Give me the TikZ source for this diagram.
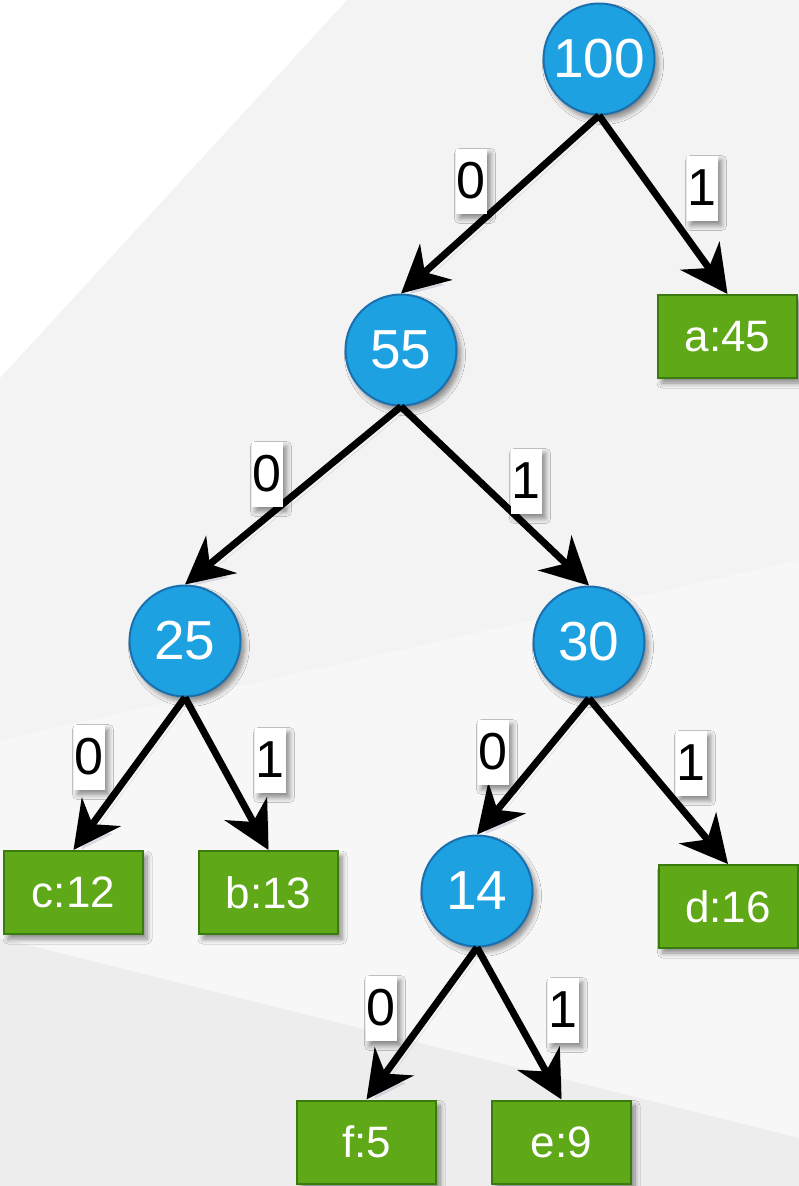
\documentclass[tikz,border=0pt]{standalone}
\usepackage{fontspec}
\setmainfont{Liberation Sans}
\usetikzlibrary{arrows.meta,shadows.blur}
\definecolor{bgtop}{HTML}{F3F3F3}
\definecolor{bgtopr}{HTML}{F4F4F4}
\definecolor{bgmid}{HTML}{F7F7F7}
\definecolor{bgbot}{HTML}{EDEDED}
\definecolor{nodeblue}{HTML}{1EA1E1}
\definecolor{nodeborder}{HTML}{1A6FAE}
\definecolor{leafgreen}{HTML}{5FA818}
\definecolor{leafborder}{HTML}{3B7A0C}
\definecolor{shadowc}{HTML}{8A8AB0}
\begin{document}
\begin{tikzpicture}[x=1pt,y=-1pt,
  sh/.style={blur shadow={shadow xshift=4pt, shadow yshift=-5pt, shadow blur radius=5pt, shadow opacity=45, shadow blur steps=8}},
  inner/.style={circle, draw=nodeborder, line width=2pt, fill=nodeblue, minimum size=111pt, inner sep=0pt, text=white, font=\fontsize{55}{55}\selectfont, sh},
  leaf/.style={rectangle, draw=leafborder, line width=2pt, fill=leafgreen, minimum width=139pt, minimum height=83pt, inner sep=0pt, text=white, font=\fontsize{44}{44}\selectfont, sh},
  bit/.style={fill=white, inner sep=0pt, minimum width=31pt, minimum height=65pt, font=\fontsize{52}{52}\selectfont, sh},
  edge/.style={-{Stealth[length=47pt,width=48pt,inset=15pt]}, line width=7pt, black,
    preaction={draw=shadowc, draw opacity=0.25, fill=shadowc, fill opacity=0.25, transform canvas={xshift=4pt,yshift=-5pt}}}
]
\useasboundingbox (0,0) rectangle (799,1186);
% background
\fill[bgtop] (0,0) rectangle (799,740);
\fill[bgtopr] (639,0) -- (799,0) -- (799,200) -- cycle;
\fill[white] (0,0) -- (347,0) -- (0,378) -- cycle;
\fill[bgmid] (0,740) -- (799,560) -- (799,1186) -- (0,1186) -- cycle;
\fill[bgbot] (0,938) -- (799,1138) -- (799,1186) -- (0,1186) -- cycle;

% nodes
\node[inner] (n100) at (599,59) {100};
\node[inner] (n55) at (401,350) {55};
\node[inner] (n25) at (185,641) {25};
\node[inner] (n30) at (589,642) {30};
\node[inner] (n14) at (477,891) {14};
\node[leaf] (a) at (727.5,336.5) {a:45};
\node[leaf] (c) at (73.5,892.5) {c:12};
\node[leaf] (b) at (268.5,892.5) {b:13};
\node[leaf] (d) at (728,906.5) {d:16};
\node[leaf] (f) at (366.5,1142) {f:5};
\node[leaf] (e) at (561.5,1142) {e:9};

% edges
\draw[edge] (n100.south) -- (n55.north);
\draw[edge] (n100.south) -- (a.north);
\draw[edge] (n55.south) -- (n25.north);
\draw[edge] (n55.south) -- (n30.north);
\draw[edge] (n25.south) -- (c.north);
\draw[edge] (n25.south) -- (b.north);
\draw[edge] (n30.south) -- (n14.north);
\draw[edge] (n30.south) -- (d.north);
\draw[edge] (n14.south) -- (f.north);
\draw[edge] (n14.south) -- (e.north);

% edge labels
\node[bit] (l1) at (471,181) {0};
\node[bit] (l2) at (702,188) {1};
\node[bit] (l3) at (267,474) {0};
\node[bit] (l4) at (526,481) {1};
\node[bit] (l5) at (89,757) {0};
\node[bit] (l6) at (270,760) {1};
\node[bit] (l7) at (493,752) {0};
\node[bit] (l8) at (691,763) {1};
\node[bit] (l9) at (381,1008) {0};
\node[bit] (l10) at (563,1010) {1};
\end{tikzpicture}
\end{document}
